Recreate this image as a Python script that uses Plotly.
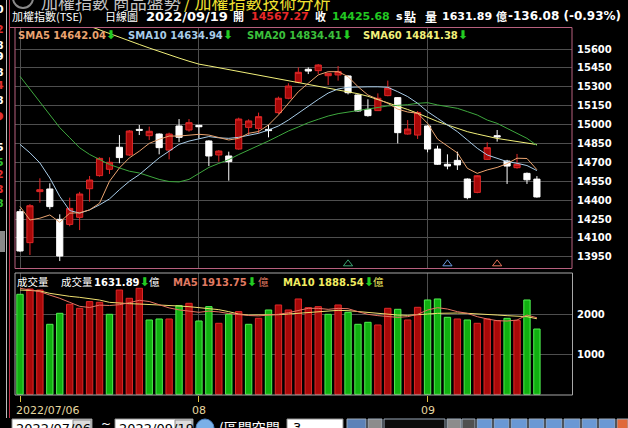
import plotly.graph_objects as go

# ---------------- data ----------------
dates = ['2022/07/06', '2022/07/07', '2022/07/08', '2022/07/11', '2022/07/12', '2022/07/13', '2022/07/14',
         '2022/07/15', '2022/07/18', '2022/07/19', '2022/07/20', '2022/07/21', '2022/07/22', '2022/07/25',
         '2022/07/26', '2022/07/27', '2022/07/28', '2022/07/29', '2022/08/01', '2022/08/02', '2022/08/03',
         '2022/08/04', '2022/08/05', '2022/08/08', '2022/08/09', '2022/08/10', '2022/08/11', '2022/08/12',
         '2022/08/15', '2022/08/16', '2022/08/17', '2022/08/18', '2022/08/19', '2022/08/22', '2022/08/23',
         '2022/08/24', '2022/08/25', '2022/08/26', '2022/08/29', '2022/08/30', '2022/08/31', '2022/09/01',
         '2022/09/02', '2022/09/05', '2022/09/06', '2022/09/07', '2022/09/08', '2022/09/12', '2022/09/13',
         '2022/09/14', '2022/09/15', '2022/09/16', '2022/09/19']

opens = [14309, 14063, 14468, 14489, 14248, 14208, 14264, 14491, 14595, 14645, 14820, 14759, 14962, 14912,
         14925, 14798, 14989, 14957, 14994, 14870, 14759, 14751, 14806, 14978, 14970, 14962, 15095, 15209,
         15336, 15439, 15428, 15388, 15394, 15386, 15235, 15121, 15111, 15230, 15214, 14925, 14917, 14989,
         14806, 14685, 14716, 14568, 14462, 14724, 14912, 14711, 14658, 14613, 14567.27]
highs = [14330, 14369, 14574, 14534, 14288, 14420, 14466, 14592, 14740, 14740, 14917, 14957, 14997, 14984,
         14930, 14936, 15044, 15044, 14999, 14875, 14798, 14785, 15055, 15042, 15095, 14997, 15222, 15328,
         15454, 15454, 15481, 15412, 15465, 15390, 15240, 15201, 15248, 15349, 15218, 15036, 15108, 14995,
         14833, 14764, 14785, 14573, 14600, 14859, 14957, 14720, 14767, 14620, 14591]
lows = [13990, 13965, 14380, 14328, 13917, 14193, 14163, 14388, 14587, 14608, 14693, 14751, 14917, 14878,
        14764, 14724, 14862, 14944, 14891, 14671, 14706, 14555, 14800, 14917, 14930, 14899, 15084, 15201,
        15328, 15401, 15401, 15314, 15349, 15240, 15103, 15063, 15108, 15225, 14851, 14920, 14886, 14780,
        14680, 14645, 14640, 14407, 14455, 14720, 14865, 14529, 14650, 14529, 14420]
closes = [13997, 14356, 14483, 14349, 13957, 14335, 14449, 14560, 14732, 14701, 14738, 14949, 14955, 14947,
          14817, 14925, 14899, 15015, 14983, 14751, 14790, 14706, 15044, 15029, 15063, 14952, 15209, 15306,
          15415, 15425, 15473, 15407, 15420, 15253, 15108, 15071, 15209, 15290, 14936, 14965, 15095, 14806,
          14685, 14671, 14680, 14420, 14594, 14817, 14902, 14671, 14685, 14561.76, 14425.68]
prev_close = 14349

sma5 = [14350, 14243, 14257, 14283, 14225, 14297, 14300, 14323, 14376, 14550, 14656, 14736, 14789, 14851,
        14883, 14909, 14909, 14917, 14923, 14917, 14899, 14878, 14891, 14931, 14945, 14997, 15076, 15169,
        15261, 15328, 15394, 15420, 15420, 15381, 15301, 15235, 15201, 15169, 15123, 15100, 15090, 15010,
        14885, 14830, 14775, 14653, 14613, 14640, 14660, 14690, 14733, 14731, 14642.04]
sma10 = [14843, 14776, 14696, 14576, 14430, 14318, 14297, 14323, 14363, 14410, 14483, 14550, 14603, 14669,
         14736, 14789, 14843, 14869, 14890, 14905, 14895, 14891, 14899, 14917, 14931, 14957, 14989, 15036,
         15090, 15150, 15200, 15250, 15283, 15296, 15300, 15300, 15300, 15296, 15261, 15222, 15169, 15103,
         15050, 14997, 14944, 14878, 14812, 14759, 14733, 14706, 14693, 14675, 14634.94]
sma20 = [15383, 15282, 15176, 15082, 14976, 14896, 14816, 14763, 14723, 14683, 14656, 14630, 14616, 14590,
         14565, 14548, 14545, 14565, 14615, 14660, 14692, 14722, 14762, 14796, 14830, 14870, 14909, 14949,
         14981, 15015, 15042, 15068, 15087, 15100, 15108, 15121, 15134, 15148, 15153, 15158, 15169, 15174,
         15156, 15142, 15129, 15103, 15076, 15036, 15010, 14970, 14931, 14891, 14834.41]
sma60 = [None, None, None, None, None, None, 15810, 15780, 15752, 15722, 15694, 15665, 15636, 15608,
         15580, 15553, 15528, 15503, 15480, 15466, 15451, 15437, 15422, 15408, 15393, 15378, 15364, 15349,
         15335, 15320, 15306, 15291, 15277, 15262, 15245, 15225, 15200, 15172, 15145, 15120, 15090, 15055,
         15025, 14997, 14970, 14944, 14925, 14905, 14890, 14878, 14866, 14855, 14841.38]

volume = [2500, 2632, 2607, 1750, 2025, 2250, 2150, 2317, 2300, 2000, 2607, 2400, 2650, 1858, 1883, 1883,
          2217, 2275, 1833, 2192, 1775, 2000, 2067, 1750, 1900, 2108, 2233, 2108, 2383, 2167, 2192, 2000,
          2233, 2050, 1750, 1800, 1733, 2150, 2125, 1858, 2175, 2358, 2383, 1925, 1883, 1858, 1775, 1883,
          1842, 1900, 1842, 2358, 1631.89]
vol_ma5 = [2650, 2607, 2566, 2480, 2400, 2300, 2200, 2170, 2230, 2220, 2240, 2290, 2350, 2320, 2240, 2160,
           2110, 2080, 2050, 2080, 2060, 2020, 1990, 1970, 1960, 1980, 2000, 2040, 2100, 2150, 2149, 2124,
           2149, 2140, 2066, 1999, 1966, 1941, 1924, 1941, 1999, 2107, 2166, 2132, 2066, 2024, 1941, 1883,
           1841, 1832, 1857, 1982, 1913.75]
vol_ma10 = [2607, 2600, 2583, 2524, 2482, 2449, 2424, 2399, 2357, 2299, 2274, 2266, 2257, 2249, 2232, 2216,
            2207, 2191, 2166, 2149, 2116, 2066, 2007, 1982, 1982, 1982, 1991, 2007, 2024, 2049, 2066, 2066,
            2099, 2091, 2066, 2041, 2016, 1999, 1982, 1974, 1982, 2007, 2024, 2032, 2032, 2024, 2016, 1999,
            1982, 1966, 1957, 1941, 1888.54]

price_ticks = [13950, 14100, 14250, 14400, 14550, 14700, 14850, 15000, 15150, 15300, 15450, 15600]
volume_ticks = [1000, 2000]
date_ticks = ['2022/07/06', '2022/08/01', '2022/09/01']
date_tick_labels = ['2022/07/06', '08', '09']
signal_dates = ['2022/08/22', '2022/09/05', '2022/09/13']
sma_names = ['SMA5', 'SMA10', 'SMA20', 'SMA60']
vol_names = ['成交量', 'MA5', 'MA10']

# ---------------- styling ----------------
W, H = 628, 428
NUM = 'DejaVu Sans'
CJK = 'Noto Sans CJK TC'
C_SMA5, C_SMA10, C_SMA20, C_SMA60 = '#eaa470', '#a8cce8', '#3ea83e', '#f2f07a'
C_SMA20_TXT = '#3cc03c'
C_RED_FILL, C_RED_LINE = '#a80808', '#e02828'
C_GRN_FILL, C_GRN_LINE = '#10b010', '#50f050'
GRID = '#4e4e4e'
ARROW = '<span style="color:#22cc22;font-size:12px">⬇</span>'


def px(x):
    return x / W


def py(y):
    return 1 - y / H


fig = go.Figure()

fig.add_trace(go.Candlestick(
    x=dates, open=opens, high=highs, low=lows, close=closes,
    increasing=dict(line=dict(color=C_RED_LINE, width=1), fillcolor=C_RED_FILL),
    decreasing=dict(line=dict(color='#ffffff', width=1), fillcolor='#ffffff'),
    whiskerwidth=0, xaxis='x', yaxis='y', hoverinfo='skip', showlegend=False))

for vals, col in [(sma60, C_SMA60), (sma20, C_SMA20), (sma10, C_SMA10), (sma5, C_SMA5)]:
    fig.add_trace(go.Scatter(x=dates, y=vals, mode='lines', line=dict(color=col, width=1),
                             xaxis='x', yaxis='y', hoverinfo='skip', showlegend=False))

fig.add_trace(go.Scatter(
    x=signal_dates, y=[13895] * len(signal_dates), mode='markers',
    marker=dict(symbol='triangle-up-open', size=8,
                color=['#3aa070', '#6a9ae0', '#e8705a'], line=dict(width=1)),
    xaxis='x', yaxis='y', hoverinfo='skip', showlegend=False))

# volume colours from close-to-close direction
vol_up = []
for i, c in enumerate(closes):
    p = prev_close if i == 0 else closes[i - 1]
    vol_up.append(c > p)
fig.add_trace(go.Bar(
    x=dates, y=volume, width=0.64,
    marker=dict(color=[C_RED_FILL if u else C_GRN_FILL for u in vol_up],
                line=dict(color=[C_RED_LINE if u else C_GRN_LINE for u in vol_up], width=1)),
    xaxis='x2', yaxis='y2', hoverinfo='skip', showlegend=False))
fig.add_trace(go.Scatter(x=dates, y=vol_ma10, mode='lines', line=dict(color='#f0e070', width=1),
                         xaxis='x2', yaxis='y2', hoverinfo='skip', showlegend=False))
fig.add_trace(go.Scatter(x=dates, y=vol_ma5, mode='lines', line=dict(color='#e87462', width=1),
                         xaxis='x2', yaxis='y2', hoverinfo='skip', showlegend=False))

xr = [-0.503, 55.53]
axis_font = dict(family=NUM, size=10, color='#ffffff', weight='bold')
fig.update_layout(
    width=W, height=H, autosize=False, template='none',
    margin=dict(l=0, r=0, t=0, b=0, pad=0),
    paper_bgcolor='#000000', plot_bgcolor='#000000',
    showlegend=False, boxgap=0.38, boxgroupgap=0,
    xaxis=dict(domain=[px(15), px(572)], range=xr, type='category', anchor='y',
               tickvals=date_ticks, showticklabels=False, ticks='', showgrid=True,
               gridcolor=GRID, gridwidth=1, zeroline=False, showline=False,
               rangeslider=dict(visible=False), automargin=False, fixedrange=True),
    yaxis=dict(domain=[py(268), py(27)], range=[13861.8, 15774.6], side='right', anchor='x',
               tickvals=price_ticks, tickformat='d', ticks='', ticklabelstandoff=4, tickfont=axis_font,
               showgrid=True, gridcolor=GRID, gridwidth=1, zeroline=False, showline=False,
               automargin=False, fixedrange=True),
    xaxis2=dict(domain=[px(15), px(572)], range=xr, type='category', anchor='y2', matches='x',
                tickvals=date_ticks, showticklabels=False, ticks='outside', ticklen=6,
                tickcolor='#e0c040', tickwidth=1, showgrid=True, gridcolor=GRID, gridwidth=1,
                zeroline=False, showline=False, automargin=False, fixedrange=True),
    yaxis2=dict(domain=[py(395), py(273)], range=[-17.5, 3032.5], side='right', anchor='x2',
                tickvals=volume_ticks, tickformat='d', ticks='', ticklabelstandoff=4, tickfont=axis_font,
                showgrid=True, gridcolor=GRID, gridwidth=1, zeroline=False, showline=False,
                automargin=False, fixedrange=True),
)

shapes = []
# panel borders
shapes.append(dict(type='rect', xref='paper', yref='paper', x0=px(15), x1=px(572), y0=py(268.5), y1=py(27.5),
                   line=dict(color='#b8607e', width=1), layer='above'))
shapes.append(dict(type='line', xref='paper', yref='paper', x0=px(9), x1=px(15), y0=py(27.5), y1=py(27.5),
                   line=dict(color='#b8607e', width=1)))
shapes.append(dict(type='rect', xref='paper', yref='paper', x0=px(15), x1=px(572.5), y0=py(395), y1=py(273),
                   line=dict(color='#a8a8a8', width=1), layer='above'))
shapes.append(dict(type='line', xref='paper', yref='paper', x0=px(9.5), x1=px(9.5), y0=py(0), y1=py(418),
                   line=dict(color='#c03048', width=1)))
shapes.append(dict(type='line', xref='paper', yref='paper', x0=px(6.5), x1=px(6.5), y0=py(0), y1=py(418),
                   line=dict(color='#bcbcbc', width=1)))
shapes.append(dict(type='rect', xref='paper', yref='paper', x0=px(-1), x1=px(5), y0=py(252), y1=py(231),
                   fillcolor='#8a8a8a', line=dict(width=0)))
# top-left icon (cut off)
shapes.append(dict(type='circle', xref='paper', yref='paper', x0=px(13), x1=px(33), y0=py(8), y1=py(-12),
                   line=dict(color='#8a8a8a', width=2)))
# bottom toolbar (cut off)
for x0, x1 in [(12, 92), (115, 193), (287, 343)]:
    shapes.append(dict(type='rect', xref='paper', yref='paper', x0=px(x0), x1=px(x1), y0=py(432), y1=py(419),
                       fillcolor='#ffffff', line=dict(color='#909090', width=1)))
for x0, x1 in [(73, 91), (175, 192)]:
    shapes.append(dict(type='rect', xref='paper', yref='paper', x0=px(x0), x1=px(x1), y0=py(432), y1=py(420),
                       fillcolor='#dcdcdc', line=dict(color='#909090', width=1)))
shapes.append(dict(type='circle', xref='paper', yref='paper', x0=px(196), x1=px(214), y0=py(437), y1=py(419),
                   fillcolor='#7ab0e8', line=dict(color='#4a80c0', width=1)))
for x0, x1, col in [(347, 366, '#5c82b8'), (368, 382, '#8c8c8c'), (384, 445, '#0c0c0c'), (447, 461, '#8c8c8c'),
                    (462, 475, '#505050'), (477, 492, '#6a98d4'), (494, 509, '#6a98d4'), (511, 527, '#6a98d4'),
                    (529, 544, '#6a98d4'), (546, 562, '#6a98d4'), (564, 580, '#6a98d4'), (582, 597, '#6a98d4'),
                    (599, 615, '#6a98d4'), (617, 628, '#e0683a')]:
    shapes.append(dict(type='rect', xref='paper', yref='paper', x0=px(x0), x1=px(x1), y0=py(432), y1=py(419),
                       fillcolor=col, line=dict(color='#9aa8b8', width=1)))
fig.update_layout(shapes=shapes)


def note(x, y, text, color='#ffffff', size=11, family=NUM, bold=False, xanchor='left'):
    fig.add_annotation(x=px(x), y=py(y), xref='paper', yref='paper', text=text,
                       showarrow=False, xanchor=xanchor, yanchor='middle', borderpad=0,
                       font=dict(family=family, size=size, color=color, weight='bold' if bold else 'normal'))


# partially visible title row
note(40, 1, '加權指數 商品盤勢', color='#c4c4c4', size=17, family=CJK)
note(183, 1, '/ 加權指數技術分析', color='#f0e030', size=17, family=CJK)

# left clipped column
for yy, ch, col in [(10, '0', '#ffffff'), (29, '2', '#e03030'), (45, '8', '#ffffff'), (57, '9', '#ffffff'),
                    (72, '8', '#ffffff'), (85, '4', '#e03030'), (100, '8', '#ffffff'), (116, '●', '#e03030'),
                    (148, '5', '#ffffff'), (162, '5', '#30c030'), (174, '2', '#e03030'), (189, '3', '#e03030'),
                    (203, '8', '#30c030')]:
    note(4.5, yy, ch, color=col, size=11, bold=True, xanchor='right')

# header row
note(11, 16, '加權指數(TSE)', size=11, family=CJK)
note(104, 16, '日線圖', size=11, family=CJK)
note(145, 16, '2022/09/19', size=13, bold=True)
note(232, 16, '開', size=11, family=CJK, bold=True)
note(250, 16, '14567.27', color='#e82828', size=11, bold=True)
note(314, 16, '收', size=11, family=CJK, bold=True)
note(331, 16, '14425.68', color='#22c822', size=11, bold=True)
note(395, 16, 's', size=11, bold=True)
note(403, 16, '點', size=12, family=CJK, bold=True)
note(424, 16, '量', size=12, family=CJK, bold=True)
note(441, 16, '1631.89', size=11, bold=True)
note(495, 16, '億', size=11, family=CJK, bold=True)
note(507, 16, '-136.08 (-0.93%)', size=12, bold=True)

# price legend
for xx, name, vals, col in [(17, sma_names[0], sma5, C_SMA5), (127, sma_names[1], sma10, C_SMA10),
                            (246, sma_names[2], sma20, C_SMA20_TXT), (362, sma_names[3], sma60, C_SMA60)]:
    note(xx, 34.5, f'{name} {vals[-1]:.2f}' + ARROW, color=col, size=10, bold=True)

# volume legend
note(16, 281.5, vol_names[0], size=10.5, family=CJK)
note(60, 281.5, vol_names[0], size=10.5, family=CJK)
note(93, 281.5, f'{volume[-1]:.2f}' + ARROW, size=10, bold=True)
note(148, 281.5, '億', size=10.5, family=CJK)
note(172, 281.5, f'{vol_names[1]} {vol_ma5[-1]:.2f}' + ARROW, color='#e07a62', size=10, bold=True)
note(257, 281.5, '億', color='#e07a62', size=10.5, family=CJK)
note(282, 281.5, f'{vol_names[2]} {vol_ma10[-1]:.2f}' + ARROW, color='#f0ec60', size=10, bold=True)
note(372, 281.5, '億', color='#f0ec60', size=10.5, family=CJK)

# date tick labels
for d, lab in zip(date_ticks, date_tick_labels):
    fig.add_annotation(x=d, y=py(410), xref='x2', yref='paper', text=lab, showarrow=False,
                       xanchor='left' if lab == date_tick_labels[0] else 'center',
                       xshift=-5 if lab == date_tick_labels[0] else 0, yanchor='middle', borderpad=0,
                       font=dict(family=NUM, size=11, color='#e6d8a0'))

# bottom toolbar texts (cut off)
note(15, 428, '2022/07/06', color='#000000', size=13)
note(118, 428, '2022/09/19', color='#000000', size=13)
note(100, 424, '~', size=12)
note(218, 427, '(區間空間', size=14, family=CJK)
note(292, 427, '3', color='#000000', size=13)

fig.write_html('out.html', config={'displayModeBar': False, 'staticPlot': True},
               post_script="document.body.style.margin='0';document.body.style.overflow='hidden';")
